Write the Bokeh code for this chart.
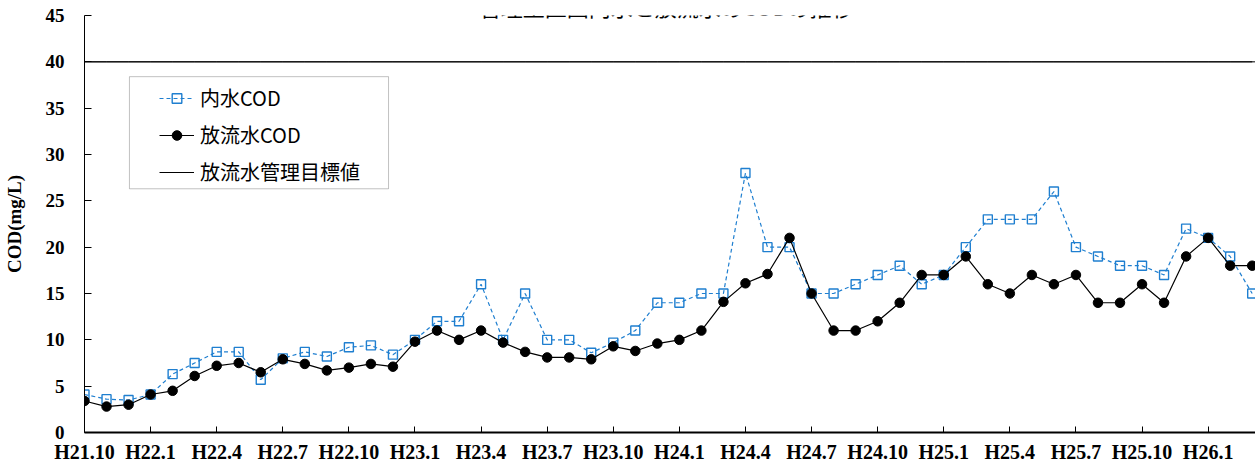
from bokeh.plotting import figure
from bokeh.models import (FixedTicker, Legend, LegendItem, BoxAnnotation, Label,
                          Span, Range1d)
from bokeh.embed import file_html
from bokeh.resources import INLINE

title_text = "管理型区画内水と放流水のCODの推移"
y_label = "COD(mg/L)"

tick_labels = ["H21.10", "H22.1", "H22.4", "H22.7", "H22.10", "H23.1", "H23.4",
               "H23.7", "H23.10", "H24.1", "H24.4", "H24.7", "H24.10", "H25.1",
               "H25.4", "H25.7", "H25.10", "H26.1"]

inner_cod = [4.1, 3.6, 3.5, 4.1, 6.3, 7.5, 8.7, 8.7, 5.7, 8.0, 8.7, 8.2, 9.2, 9.4,
             8.4, 10.0, 12, 12, 16, 10, 15, 10, 10, 8.6, 9.7, 11, 14, 14, 15, 15,
             28, 20, 20, 15, 15, 16, 17, 18, 16, 17, 20, 23, 23, 23, 26, 20, 19,
             18, 18, 17, 22, 21, 19, 15]

outflow_cod = [3.4, 2.8, 3.0, 4.1, 4.5, 6.1, 7.2, 7.5, 6.5, 7.9, 7.4, 6.7, 7.0, 7.4,
               7.1, 9.8, 11.0, 10.0, 11.0, 9.7, 8.7, 8.1, 8.1, 7.9, 9.3, 8.8, 9.6,
               10.0, 11.0, 14.1, 16.1, 17.1, 21, 15, 11, 11, 12, 14, 17, 17, 19, 16,
               15, 17, 16, 17, 14, 14, 16, 14, 19, 21, 18, 18]

target_value = 40

series_names = ["内水COD", "放流水COD", "放流水管理目標値"]

months = list(range(len(inner_cod)))
BLUE = "#1f7fd0"

p = figure(width=1255, height=466, output_backend="svg", toolbar_location=None,
           x_range=Range1d(0, 53.15), y_range=Range1d(0, 45),
           min_border_left=83, min_border_right=0, min_border_top=15,
           min_border_bottom=34)
p.outline_line_color = None
p.xgrid.visible = False
p.ygrid.visible = False
p.background_fill_color = "white"

# axes
p.xaxis.ticker = FixedTicker(ticks=[i * 3 for i in range(len(tick_labels))])
p.xaxis.major_label_overrides = {i * 3: lab for i, lab in enumerate(tick_labels)}
p.xaxis.minor_tick_line_color = None
p.xaxis.major_tick_in = 6
p.xaxis.major_tick_out = 0
p.xaxis.axis_line_width = 2
p.xaxis.axis_line_color = "black"
p.xaxis.major_tick_line_color = "black"
p.xaxis.major_label_text_font = "Liberation Serif"
p.xaxis.major_label_text_font_style = "bold"
p.xaxis.major_label_text_font_size = "20px"
p.xaxis.major_label_text_color = "black"
p.xaxis.major_label_standoff = 8

p.yaxis.ticker = FixedTicker(ticks=[0, 5, 10, 15, 20, 25, 30, 35, 40, 45])
p.yaxis.minor_tick_line_color = None
p.yaxis.major_tick_in = 7
p.yaxis.major_tick_out = 0
p.yaxis.axis_line_color = "black"
p.yaxis.major_tick_line_color = "black"
p.yaxis.major_label_text_font = "Liberation Serif"
p.yaxis.major_label_text_font_style = "bold"
p.yaxis.major_label_text_font_size = "19px"
p.yaxis.major_label_text_color = "black"
p.yaxis.major_label_standoff = 20
p.yaxis.axis_label = y_label
p.yaxis.axis_label_text_font = "Liberation Serif"
p.yaxis.axis_label_text_font_style = "bold"
p.yaxis.axis_label_text_font_size = "19px"
p.yaxis.axis_label_text_color = "black"
p.yaxis.axis_label_standoff = 18

# target line
p.add_layout(Span(location=target_value, dimension="width", line_color="black",
                  line_width=1))
r_target = p.line(months, [target_value] * len(months), line_color="black",
                  line_width=1)

# inner water
r_in_line = p.line(months, inner_cod, line_color=BLUE, line_width=1.2,
                   line_dash="4 3")
r_in_pts = p.scatter(months, inner_cod, marker="square", size=9,
                     line_color=BLUE, line_width=1.4, fill_alpha=0)

# outflow
r_out_line = p.line(months, outflow_cod, line_color="black", line_width=1.2)
r_out_pts = p.scatter(months, outflow_cod, marker="circle", size=9.5,
                      line_color="black", fill_color="black")

# legend box
box = BoxAnnotation(left=2.04, right=13.8, bottom=26.3, top=38.4,
                    fill_color="white", fill_alpha=1, line_color="#333333",
                    line_width=1, level="annotation")
p.add_layout(box)

legend = Legend(items=[
    LegendItem(label=series_names[0], renderers=[r_in_line, r_in_pts]),
    LegendItem(label=series_names[1], renderers=[r_out_line, r_out_pts]),
    LegendItem(label=series_names[2], renderers=[r_target]),
], location=(65, 236))
legend.background_fill_alpha = 0
legend.border_line_alpha = 0
legend.padding = 10
legend.spacing = 8
legend.glyph_width = 35
legend.glyph_height = 24
legend.label_height = 24
legend.label_standoff = 6
legend.label_text_font = "Noto Sans CJK JP"
legend.label_text_font_size = "20px"
legend.label_text_color = "black"
legend.margin = 0
p.add_layout(legend)

# title (cropped at the top like the reference)
title = Label(x=26.4, y=45, text=title_text, text_align="center",
              text_baseline="alphabetic", y_offset=10,
              text_font="Noto Sans CJK JP", text_font_size="22px",
              text_color="black")
p.add_layout(title)

open("out.html", "w").write(file_html(p, INLINE))
